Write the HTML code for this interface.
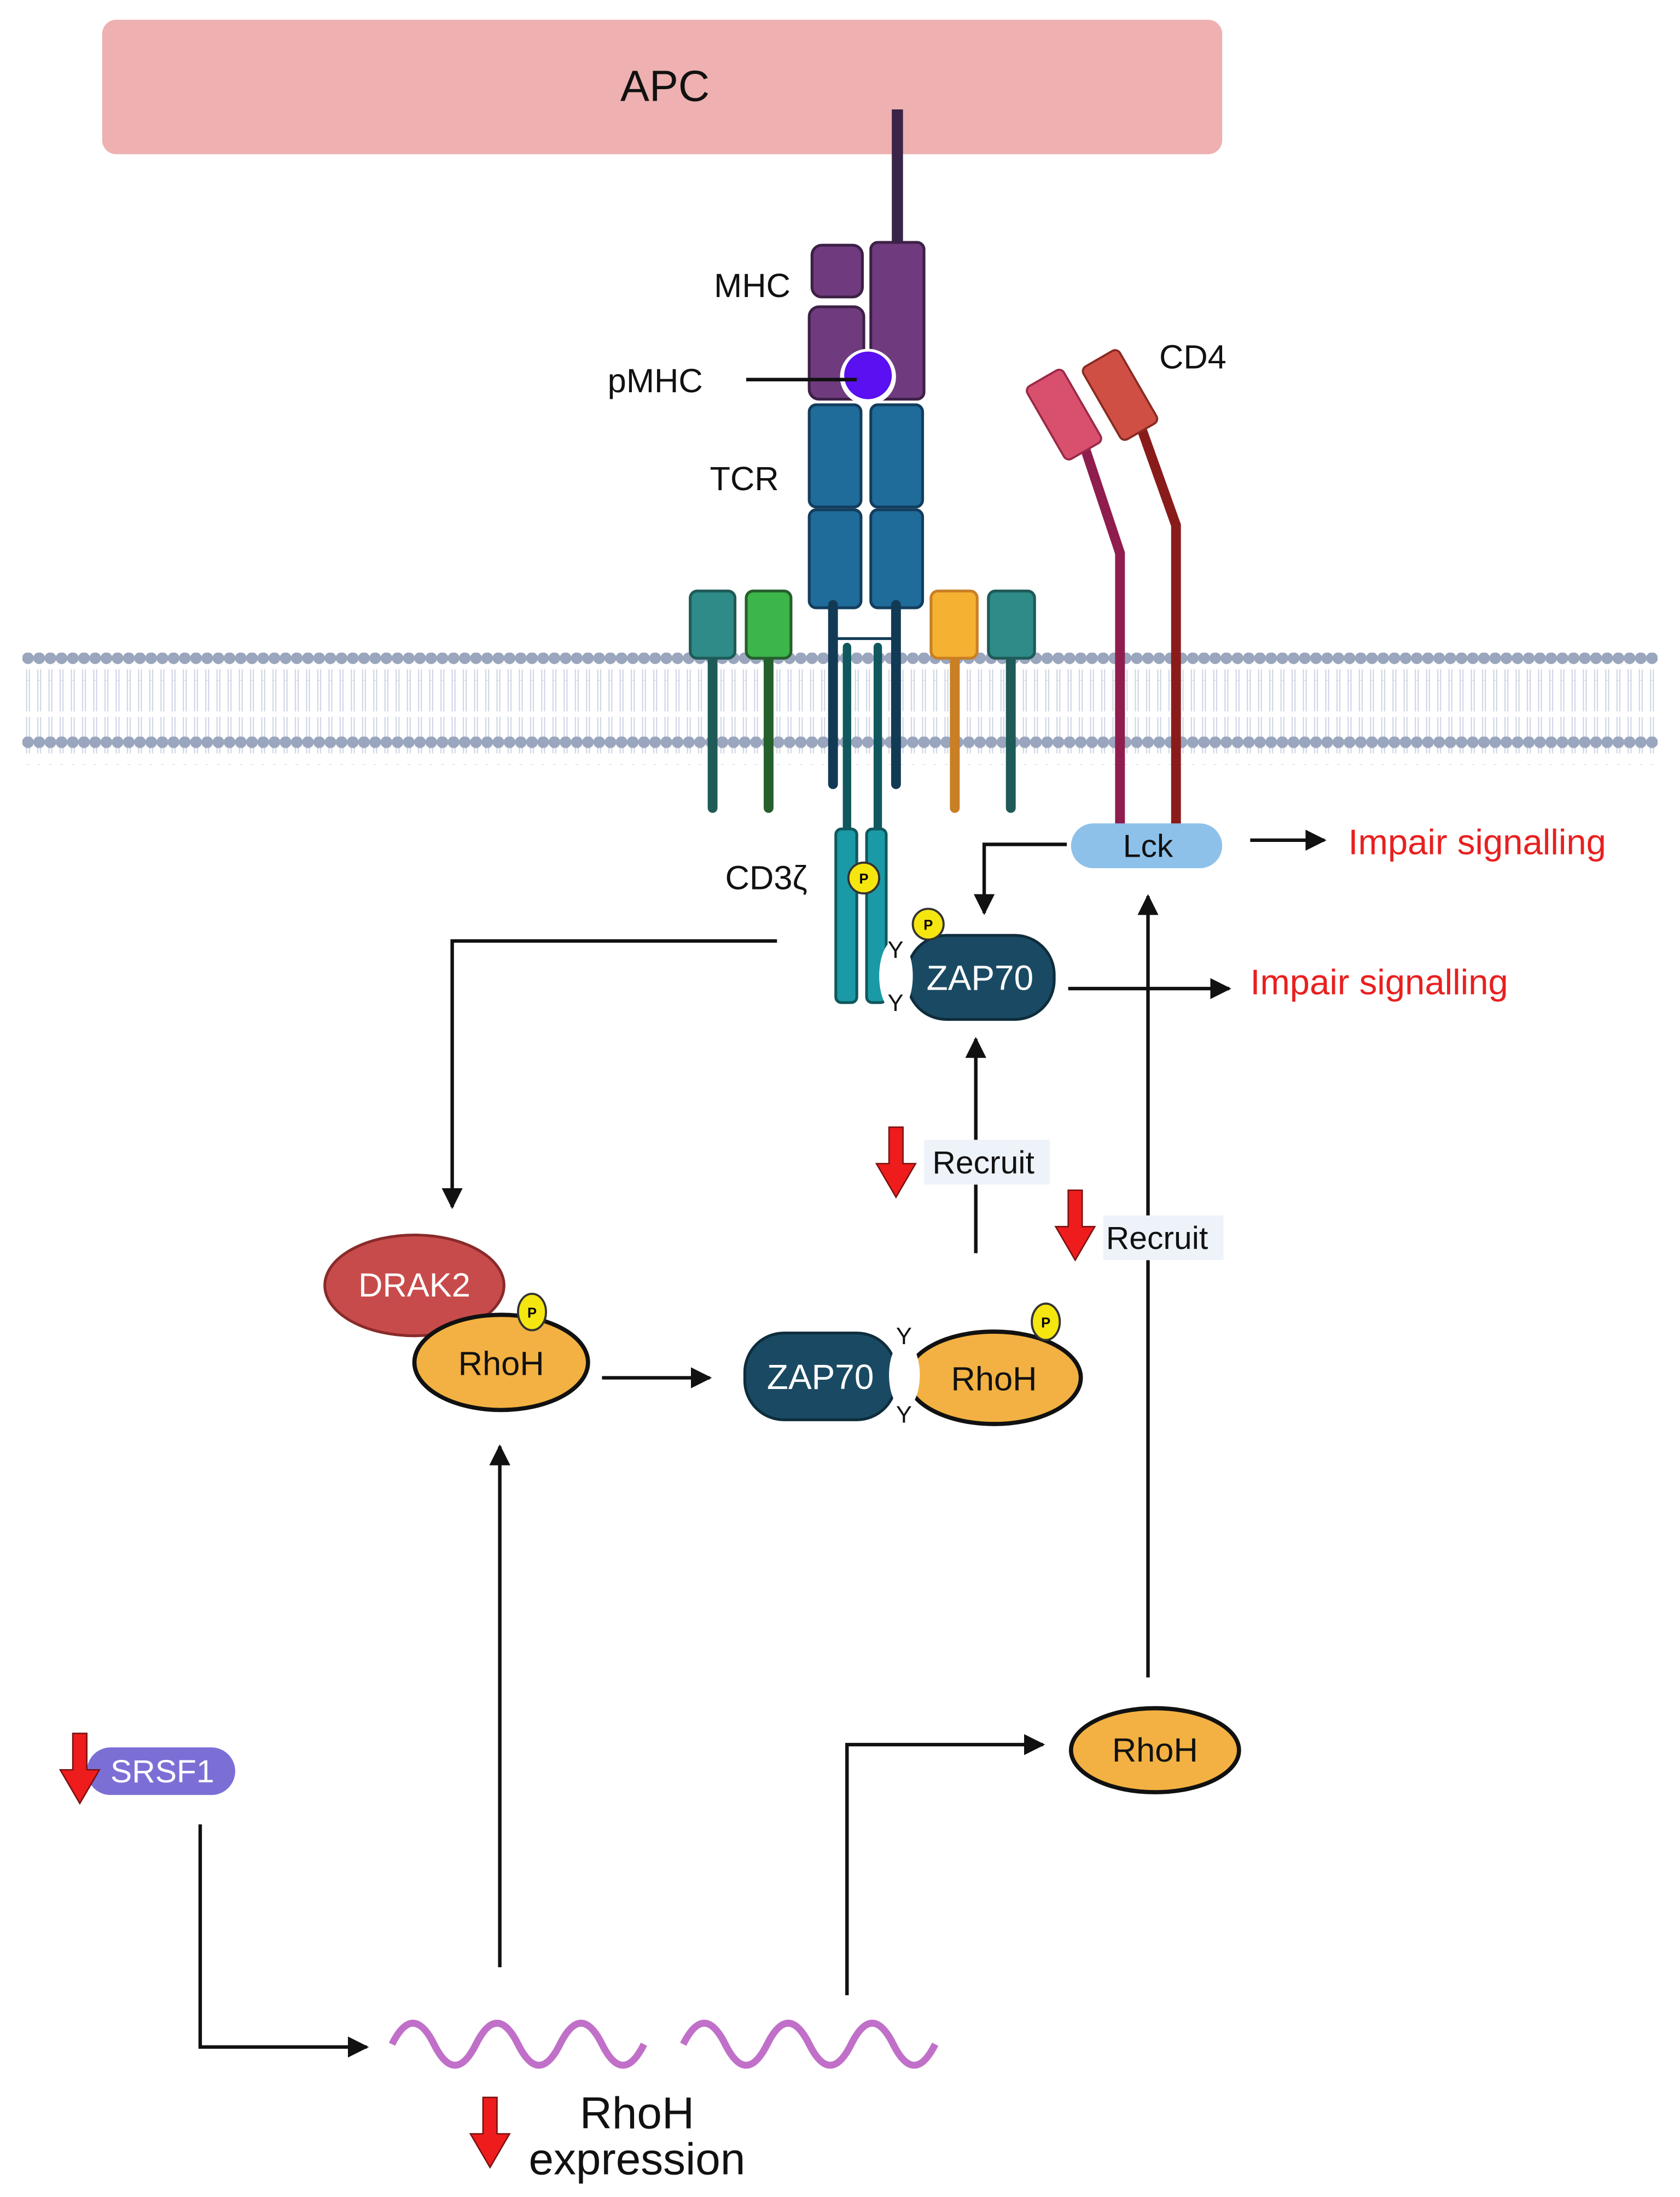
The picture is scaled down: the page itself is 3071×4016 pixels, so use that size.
<!DOCTYPE html>
<html><head><meta charset="utf-8"><style>html,body{margin:0;padding:0;background:#fff}svg{display:block}</style></head>
<body>
<svg width="3071" height="4016" viewBox="0 0 1200 1569" xmlns="http://www.w3.org/2000/svg" font-family="Liberation Sans, sans-serif">
<defs>
<marker id="ah" viewBox="0 0 10 10" refX="9" refY="5" markerWidth="6" markerHeight="6" orient="auto"><path d="M0,0L10,5L0,10z" fill="#111"/></marker>
<pattern id="heads" x="16" y="0" width="8" height="20" patternUnits="userSpaceOnUse"><circle cx="4" cy="10" r="4.2" fill="#9aa6bd"/></pattern>
<pattern id="tails" x="16" y="0" width="8" height="60" patternUnits="userSpaceOnUse"><path d="M3,0V28M5,0V28M3,32V60M5,32V60" stroke="#cdd4e4" stroke-width="0.8"/></pattern>
<g id="red"><path d="M-5,-26H5V0H14L0,24L-14,0H-5Z" fill="#ee1c1c" stroke="#7a1010" stroke-width="1"/></g>
</defs>
<rect width="1200" height="1569" fill="#fff"/>
<rect x="73" y="14" width="800" height="96" rx="10" fill="#eeb0b0"/>
<text x="475" y="72" font-size="31" text-anchor="middle" fill="#111">APC</text>
<rect x="16" y="478" width="1168" height="60" fill="url(#tails)"/>
<rect x="16" y="466" width="1168" height="20" fill="url(#heads)"/>
<rect x="16" y="526" width="1168" height="20" fill="url(#heads)"/>
<line x1="641" y1="78" x2="641" y2="178" stroke="#3a2448" stroke-width="8"/>
<rect x="580" y="175" width="36" height="37" rx="7" fill="#6f3b7e" stroke="#3d2046" stroke-width="2"/>
<rect x="578" y="219" width="39" height="66" rx="7" fill="#6f3b7e" stroke="#3d2046" stroke-width="2"/>
<rect x="622" y="173" width="38" height="112" rx="5" fill="#6f3b7e" stroke="#3d2046" stroke-width="2"/>
<circle cx="620" cy="269" r="20" fill="#fff"/>
<circle cx="620" cy="268" r="17" fill="#5a10f0"/>
<line x1="533" y1="271" x2="612" y2="271" stroke="#111" stroke-width="2.5"/>
<text x="510" y="212" font-size="24" fill="#111">MHC</text>
<text x="434" y="280" font-size="24" fill="#111">pMHC</text>
<text x="507" y="350" font-size="24" fill="#111">TCR</text>
<g fill="#1f6b9a" stroke="#123d5c" stroke-width="2">
<rect x="578" y="289" width="37" height="73" rx="5"/><rect x="578" y="364" width="37" height="70" rx="5"/>
<rect x="622" y="289" width="37" height="73" rx="5"/><rect x="622" y="364" width="37" height="70" rx="5"/>
</g>
<g stroke-linecap="round">
<line x1="595" y1="432" x2="595" y2="560" stroke="#123a55" stroke-width="7"/>
<line x1="640" y1="432" x2="640" y2="560" stroke="#123a55" stroke-width="7"/>
<line x1="598" y1="456" x2="637" y2="456" stroke="#123a55" stroke-width="2"/>
<line x1="605" y1="462" x2="605" y2="595" stroke="#10585e" stroke-width="6"/>
<line x1="627" y1="462" x2="627" y2="595" stroke="#10585e" stroke-width="6"/>
<line x1="509" y1="468" x2="509" y2="577" stroke="#1e5a58" stroke-width="7"/>
<line x1="549" y1="468" x2="549" y2="577" stroke="#245f2c" stroke-width="7"/>
<line x1="682" y1="468" x2="682" y2="577" stroke="#c97f24" stroke-width="7"/>
<line x1="722" y1="468" x2="722" y2="577" stroke="#1e5a58" stroke-width="7"/>
</g>
<rect x="493" y="422" width="32" height="48" rx="5" fill="#2e8b87" stroke="#1e5a58" stroke-width="2"/>
<rect x="533" y="422" width="32" height="48" rx="5" fill="#3cb54a" stroke="#245f2c" stroke-width="2"/>
<rect x="665" y="422" width="33" height="48" rx="5" fill="#f5b132" stroke="#c97f24" stroke-width="2"/>
<rect x="706" y="422" width="33" height="48" rx="5" fill="#2e8b87" stroke="#1e5a58" stroke-width="2"/>
<rect x="597" y="592" width="15" height="124" rx="4" fill="#1a9aa6" stroke="#10585e" stroke-width="2"/>
<rect x="619" y="592" width="14" height="124" rx="4" fill="#1a9aa6" stroke="#10585e" stroke-width="2"/>
<circle cx="617" cy="627" r="11" fill="#f5e60f" stroke="#333" stroke-width="1.5"/><text x="617" y="631" font-size="10" font-weight="bold" text-anchor="middle">P</text>
<text x="518" y="635" font-size="24" fill="#111">CD3ζ</text>
<path d="M775,320L800,395V590" fill="none" stroke="#8f1d4e" stroke-width="7"/>
<path d="M815,305L840,375V590" fill="none" stroke="#8a1b1b" stroke-width="7"/>
<rect x="-15" y="-30" width="30" height="60" rx="4" transform="translate(760,296) rotate(-30)" fill="#d9506e" stroke="#9a2a46" stroke-width="1.5"/>
<rect x="-15" y="-30" width="30" height="60" rx="4" transform="translate(800,282) rotate(-30)" fill="#cf4f45" stroke="#8a2a22" stroke-width="1.5"/>
<text x="828" y="263" font-size="24" fill="#111">CD4</text>
<rect x="765" y="588" width="108" height="32" rx="16" fill="#8dc1ea"/>
<text x="820" y="612" font-size="23" text-anchor="middle" fill="#111">Lck</text>
<g stroke="#111" stroke-width="2.5" fill="none" marker-end="url(#ah)">
<line x1="893" y1="600" x2="946" y2="600"/>
<path d="M762,603H703V652"/>
<line x1="763" y1="706" x2="878" y2="706"/>
<path d="M555,672H323V862"/>
<line x1="430" y1="984" x2="507" y2="984"/>
<line x1="697" y1="895" x2="697" y2="742"/>
<line x1="820" y1="1198" x2="820" y2="640"/>
<path d="M605,1425V1246H745"/>
<line x1="357" y1="1405" x2="357" y2="1033"/>
<path d="M143,1303V1462H262"/>
</g>
<text x="963" y="610" font-size="25.5" fill="#e8201f">Impair signalling</text>
<text x="893" y="710" font-size="25.5" fill="#e8201f">Impair signalling</text>
<rect x="648" y="668" width="105" height="60" rx="28" fill="#1a4a63" stroke="#0e2d3d" stroke-width="2"/>
<ellipse cx="640" cy="697" rx="12" ry="26" fill="#fff"/>
<text x="700" y="707" font-size="25" text-anchor="middle" fill="#fff">ZAP70</text>
<text x="634" y="684" font-size="17" fill="#111">Y</text><text x="634" y="722" font-size="17" fill="#111">Y</text>
<circle cx="663" cy="660" r="11" fill="#f5e60f" stroke="#333" stroke-width="1.5"/><text x="663" y="664" font-size="10" font-weight="bold" text-anchor="middle">P</text>
<ellipse cx="296" cy="918" rx="64" ry="36" fill="#c84b4b" stroke="#8a2a2a" stroke-width="2"/>
<text x="296" y="926" font-size="24" text-anchor="middle" fill="#fff">DRAK2</text>
<ellipse cx="358" cy="973" rx="62" ry="34" fill="#f2b142" stroke="#111" stroke-width="3"/>
<text x="358" y="982" font-size="24" text-anchor="middle" fill="#111">RhoH</text>
<ellipse cx="380" cy="937" rx="10" ry="13" fill="#f5e60f" stroke="#333" stroke-width="1.5"/><text x="380" y="941" font-size="10" font-weight="bold" text-anchor="middle">P</text>
<rect x="532" y="952" width="108" height="62" rx="28" fill="#1a4a63" stroke="#0e2d3d" stroke-width="2"/>
<text x="586" y="992" font-size="25" text-anchor="middle" fill="#fff">ZAP70</text>
<ellipse cx="710" cy="984" rx="62" ry="33" fill="#f2b142" stroke="#111" stroke-width="3"/>
<ellipse cx="646" cy="982" rx="11" ry="24" fill="#fff"/>
<text x="710" y="993" font-size="24" text-anchor="middle" fill="#111">RhoH</text>
<text x="640" y="960" font-size="17" fill="#111">Y</text><text x="640" y="1016" font-size="17" fill="#111">Y</text>
<ellipse cx="747" cy="944" rx="10" ry="13" fill="#f5e60f" stroke="#333" stroke-width="1.5"/><text x="747" y="948" font-size="10" font-weight="bold" text-anchor="middle">P</text>
<use href="#red" x="640" y="831"/>
<rect x="660" y="814" width="90" height="32" fill="#eef3fa"/>
<text x="666" y="838" font-size="23" fill="#111">Recruit</text>
<use href="#red" x="768" y="876"/>
<rect x="788" y="868" width="86" height="32" fill="#eef3fa"/>
<text x="790" y="892" font-size="23" fill="#111">Recruit</text>
<ellipse cx="825" cy="1250" rx="60" ry="30" fill="#f2b142" stroke="#111" stroke-width="3"/>
<text x="825" y="1258" font-size="24" text-anchor="middle" fill="#111">RhoH</text>
<rect x="62" y="1248" width="106" height="34" rx="17" fill="#7b6fd6"/>
<text x="116" y="1273" font-size="23" text-anchor="middle" fill="#fff">SRSF1</text>
<use href="#red" x="57" y="1264"/>
<path d="M280,1460q15,-30 30,0t30,0t30,0t30,0t30,0t30,0" fill="none" stroke="#c070c8" stroke-width="5"/>
<path d="M488,1460q15,-30 30,0t30,0t30,0t30,0t30,0t30,0" fill="none" stroke="#c070c8" stroke-width="5"/>
<use href="#red" x="350" y="1524"/>
<text x="455" y="1520" font-size="32" text-anchor="middle" fill="#111">RhoH</text>
<text x="455" y="1553" font-size="32" text-anchor="middle" fill="#111">expression</text>
</svg>
</body></html>
